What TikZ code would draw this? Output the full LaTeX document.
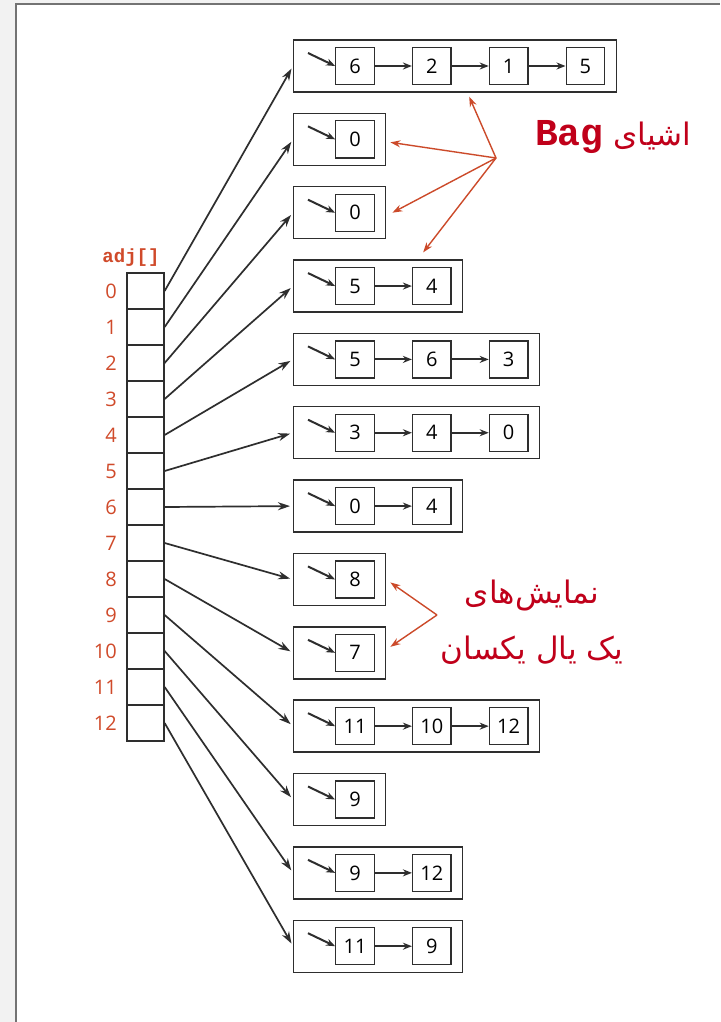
\documentclass[tikz,border=0pt]{standalone}
\usepackage{fontspec}
\setmainfont{Open Sans}
\newfontfamily\arabicfont[Script=Arabic]{DejaVu Sans}
\newfontfamily\codefont{Liberation Mono}
\TeXXeTstate=1
\usetikzlibrary{arrows.meta}
\usetikzlibrary{calc}

\definecolor{idxRed}{HTML}{D04A2A}
\definecolor{noteRed}{HTML}{C0001A}
\definecolor{arrowRed}{HTML}{CC4A2A}
\definecolor{lineGray}{HTML}{2E2E2E}

\begin{document}
\begin{tikzpicture}[x=1pt, y=-1pt,
	cellbox/.style={draw=lineGray, line width=1.3pt, minimum width=37pt, minimum height=36pt, inner sep=0pt},
	itembox/.style={draw=lineGray, line width=1.3pt, minimum width=38.5pt, minimum height=37pt, inner sep=0pt, font=\fontsize{20}{24}\selectfont},
	listbox/.style={draw=lineGray, line width=1.4pt, minimum height=52pt, inner sep=0pt, anchor=west},
	idx/.style={anchor=east, inner sep=0pt, text=idxRed, font=\fontsize{20}{24}\selectfont},
	link/.style={line width=2pt, lineGray, -{Stealth[length=9pt,width=7pt]}},
	pointer/.style={line width=1.7pt, lineGray, shorten >=3pt, -{Stealth[length=12pt,width=8pt]}},
	note/.style={line width=1.4pt, arrowRed, -{Stealth[length=10pt,width=7pt]}},
	noteText/.style={text=noteRed, inner sep=0pt, font=\arabicfont\fontsize{31}{56}\selectfont},
]

	% page and panel
	\useasboundingbox (0,0) rectangle (720,1022);
	\fill[black!5] (0,0) rectangle (720,1022);
	\fill[white] (16,4) rectangle (720,1022);
	\draw[black!55, line width=1.5pt] (16,1022) -- (16,4) -- (720,4);

	% the adj[] array
	\node[text=idxRed, font=\codefont\bfseries\fontsize{19}{22}\selectfont] (adjName) at (131,258) {adj[]};
	\foreach \r in {0,...,12} {
		\node[cellbox] (cell\r) at (145.5,291+36*\r) {};
		\node[idx] (idx\r) at (117,291+36*\r) {\r};
	}

	% one bag per vertex: index / length / entries
	\foreach \i/\n/\items in {0/4/{6,2,1,5}, 1/1/{0}, 2/1/{0}, 3/2/{5,4}, 4/3/{5,6,3},
			5/3/{3,4,0}, 6/2/{0,4}, 7/1/{8}, 8/1/{7}, 9/3/{11,10,12}, 10/1/{9},
			11/2/{9,12}, 12/2/{11,9}} {
		\pgfmathsetmacro\cy{66+73.35*\i}
		\node[listbox, minimum width=77*\n+15] (list\i) at (293,\cy) {};
		\foreach \v [count=\k from 0] in \items {
			\node[itembox] (item\i-\k) at (355+76.8*\k,\cy) {\v};
			\ifnum\k>0
				\pgfmathtruncatemacro\prev{\k-1}
				\draw[link] (item\i-\prev) -- (item\i-\k);
			\fi
		}
		% first-node pointer
		\coordinate (head\i) at (308,\cy-13);
		\draw[link] (head\i) -- (item\i-0.west);
	}

	% array entries point to their bags
	\foreach \r in {0,...,12} {
		\draw[pointer] (cell\r.east) -- (list\r.west);
	}

	% Bag objects note
	\node[noteText] (bagNote) at (613,137) {\beginR اشیای \beginL{\codefont\bfseries\fontsize{38}{42}\selectfont Bag}\endL\endR};
	\coordinate (bagHub) at (496,158);
	\draw[note] (bagHub) -- ([xshift=14pt,yshift=-4pt]list0.south);
	\draw[note] (bagHub) -- ([xshift=4pt,yshift=-3pt]list1.east);
	\draw[note] (bagHub) -- ([xshift=6pt]list2.east);
	\draw[note] (bagHub) -- ([xshift=45pt,yshift=7pt]list3.north);

	% same edge twice note
	\node[noteText, align=center] (edgeNote) at (532,622) {\beginR نمایش‌های\endR\\\beginR یک یال یکسان\endR};
	\coordinate (edgeHub) at (437,615);
	\draw[note] (edgeHub) -- ([xshift=4pt,yshift=-3pt]list7.east);
	\draw[note] (edgeHub) -- ([xshift=4pt,yshift=6pt]list8.east);

\end{tikzpicture}
\end{document}
